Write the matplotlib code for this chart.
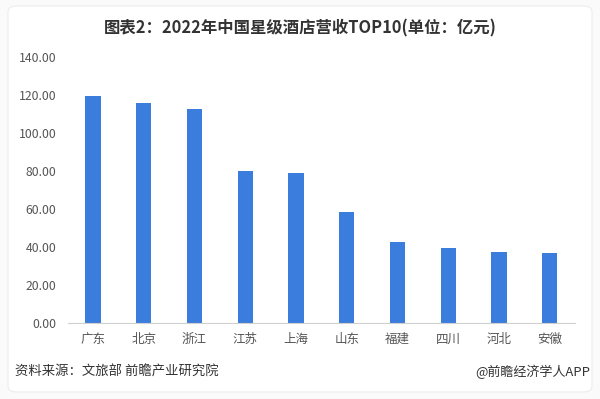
import matplotlib
matplotlib.use("Agg")
import matplotlib.pyplot as plt
from matplotlib.patches import FancyBboxPatch

plt.rcParams['font.family'] = ['Noto Sans CJK SC', 'DejaVu Sans']

categories = ["广东", "北京", "浙江", "江苏", "上海", "山东", "福建", "四川", "河北", "安徽"]
revenue = [119.6, 115.6, 112.7, 80.2, 79.2, 58.6, 42.8, 39.7, 37.6, 36.7]
yticks = [0, 20, 40, 60, 80, 100, 120, 140]
title = "图表2：2022年中国星级酒店营收TOP10(单位：亿元)"
source = "资料来源：文旅部 前瞻产业研究院"
credit = "@前瞻经济学人APP"

fig = plt.figure(figsize=(6.0, 3.99), dpi=100)
fig.patch.set_facecolor("#fafafa")
card = FancyBboxPatch((8/600, 1 - 392/399), (592 - 8)/600, (392 - 6)/399,
                      boxstyle="round,pad=0,rounding_size=0.015",
                      transform=fig.transFigure, facecolor="white",
                      edgecolor="#ececec", linewidth=0.8, zorder=-5)
fig.patches.append(card)

ax = fig.add_axes([67.7/600, 1 - 323.3/399, (575 - 67.7)/600, (323.3 - 57)/399])
ax.set_zorder(5)
ax.set_facecolor("none")
x = range(len(categories))
ax.bar(x, revenue, width=0.3, color="#3a7ddc", zorder=2)
ax.set_xlim(-0.5, len(categories) - 0.5)
ax.set_ylim(0, 140)
ax.set_yticks(yticks)
ax.set_yticklabels([f"{v:.2f}" for v in yticks], fontsize=8.8, color="#555555")
ax.set_xticks(list(x))
ax.set_xticklabels(categories, fontsize=9, color="#555555")
ax.tick_params(axis="both", length=0)
ax.tick_params(axis="y", pad=8)
ax.tick_params(axis="x", pad=7)
for s in ["top", "right", "left"]:
    ax.spines[s].set_visible(False)
ax.spines["bottom"].set_color("#d0d0d0")
ax.spines["bottom"].set_linewidth(0.8)

fig.text(0.5, 1 - 28/399, title, ha="center", va="center", fontsize=11.8,
         fontweight="bold", color="#333333")
fig.text(15/600, 1 - 372/399, source, ha="left", va="center", fontsize=9.6,
         color="#333333")
fig.text(590/600, 1 - 372/399, credit, ha="right", va="center", fontsize=9.4,
         color="#333333")

fig.savefig("out.png", dpi=100, facecolor=fig.get_facecolor())
